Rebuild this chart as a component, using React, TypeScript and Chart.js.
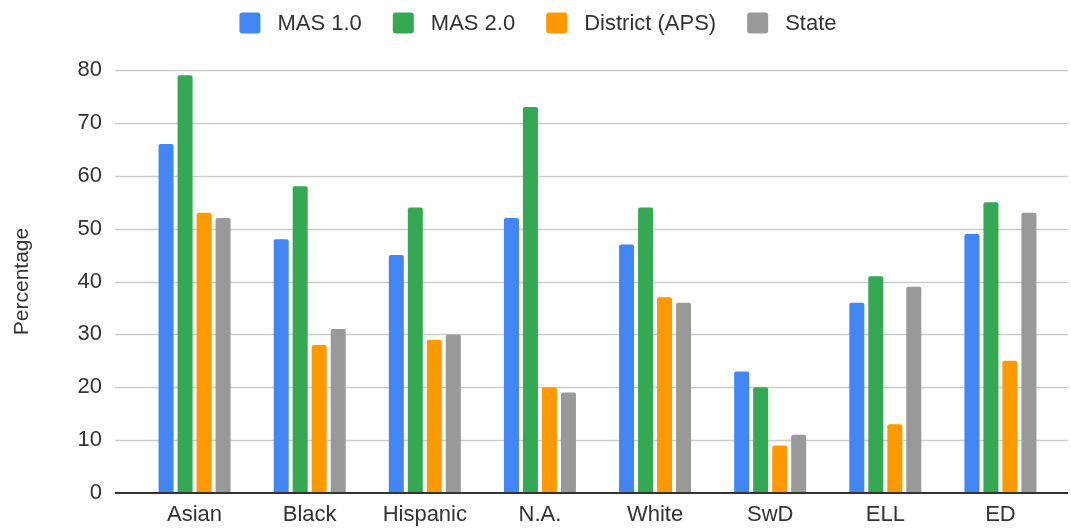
import React, { useEffect, useRef } from "react";
import { Chart, registerables } from "chart.js";

Chart.register(...registerables);

const categories = ["Asian", "Black", "Hispanic", "N.A.", "White", "SwD", "ELL", "ED"];
const seriesNames = ["MAS 1.0", "MAS 2.0", "District (APS)", "State"];
const mas1 = [66, 48, 45, 52, 47, 23, 36, 49];
const mas2 = [79, 58, 54, 73, 54, 20, 41, 55];
const district = [53, 28, 29, 20, 37, 9, 13, 25];
const state = [52, 31, 30, 19, 36, 11, 39, 53];
const yTicks = [0, 10, 20, 30, 40, 50, 60, 70, 80];
const colors = ["#4285F4", "#34A853", "#FF9900", "#999999"];

const FONT = "'Liberation Sans', Arial, sans-serif";

const gridPlugin = {
  id: "extGrid",
  beforeDatasetsDraw(chart: any) {
    const { ctx, chartArea } = chart;
    const y = chart.scales.y;
    const x0 = chartArea.left - 22;
    const x1 = chartArea.right + 10;
    ctx.save();
    y.ticks.forEach((t: any) => {
      const py = Math.round(y.getPixelForValue(t.value));
      if (t.value === 0) return;
      ctx.strokeStyle = "#cccccc";
      ctx.lineWidth = 1.5;
      ctx.beginPath();
      ctx.moveTo(x0, py + 0.5);
      ctx.lineTo(x1, py + 0.5);
      ctx.stroke();
    });
    ctx.restore();
  },
  afterDatasetsDraw(chart: any) {
    const { ctx, chartArea } = chart;
    const y = chart.scales.y;
    const py = y.getPixelForValue(0);
    ctx.save();
    ctx.strokeStyle = "#333333";
    ctx.lineWidth = 2;
    ctx.beginPath();
    ctx.moveTo(chartArea.left - 22, py);
    ctx.lineTo(chartArea.right + 10, py);
    ctx.stroke();
    ctx.restore();
  },
};

const legendPlugin = {
  id: "customLegend",
  afterDraw(chart: any) {
    const { ctx } = chart;
    const fontSize = 22;
    const box = 21;
    const gapText = 17;
    const gapItem = 31;
    ctx.save();
    ctx.font = `${fontSize}px ${FONT}`;
    const items = chart.data.datasets.map((ds: any) => ({
      label: ds.label,
      color: ds.backgroundColor,
      w: ctx.measureText(ds.label).width,
    }));
    const total =
      items.reduce((s: number, it: any) => s + box + gapText + it.w, 0) +
      gapItem * (items.length - 1);
    let x = 538 - total / 2;
    const cy = 23;
    items.forEach((it: any) => {
      ctx.fillStyle = it.color;
      ctx.beginPath();
      (ctx as any).roundRect(x, cy - box / 2, box, box, 3);
      ctx.fill();
      ctx.fillStyle = "#333333";
      ctx.textBaseline = "middle";
      ctx.textAlign = "left";
      ctx.fillText(it.label, x + box + gapText, cy + 1);
      x += box + gapText + it.w + gapItem;
    });
    ctx.restore();
  },
};

export default function App() {
  const ref = useRef<HTMLCanvasElement>(null);
  useEffect(() => {
    if (!ref.current) return;
    const data = [mas1, mas2, district, state];
    const chart = new Chart(ref.current, {
      type: "bar",
      data: {
        labels: categories,
        datasets: seriesNames.map((name, i) => ({
          label: name,
          data: data[i],
          backgroundColor: colors[i],
          borderRadius: 2,
          borderSkipped: "start",
          categoryPercentage: 0.66,
          barPercentage: 0.79,
        })),
      },
      options: {
        animation: false,
        responsive: false,
        maintainAspectRatio: false,
        layout: { padding: { top: 70, left: 0, right: 13, bottom: 0 } },
        plugins: {
          legend: { display: false },
          tooltip: { enabled: false },
        },
        scales: {
          x: {
            grid: { display: false, drawTicks: false },
            border: { display: false },
            ticks: {
              color: "#333333",
              font: { family: FONT, size: 22 },
              padding: 9,
              maxRotation: 0,
            },
            afterFit(scale: any) {
              scale.height = 36;
              scale.paddingLeft = 0;
              scale.paddingRight = 0;
            },
          },
          y: {
            min: 0,
            max: 80,
            grid: { display: false, drawTicks: false },
            border: { display: false },
            afterBuildTicks(scale: any) {
              scale.ticks = yTicks.map((v) => ({ value: v }));
            },
            ticks: {
              color: "#333333",
              font: { family: FONT, size: 22 },
              padding: 35,
            },
            title: {
              display: true,
              text: "Percentage",
              color: "#333333",
              font: { family: FONT, size: 21 },
              padding: { top: 10, bottom: 0 },
            },
            afterFit(scale: any) {
              scale.width = 137;
              scale.paddingTop = 0;
              scale.paddingBottom = 0;
            },
          },
        },
      },
      plugins: [gridPlugin, legendPlugin],
    });
    return () => chart.destroy();
  }, []);
  return (
    <div style={{ position: "fixed", left: 0, top: 0, width: 1071, height: 529, background: "#fff" }}>
      <canvas ref={ref} width={1071} height={529} style={{ width: 1071, height: 529, display: "block" }} />
    </div>
  );
}
